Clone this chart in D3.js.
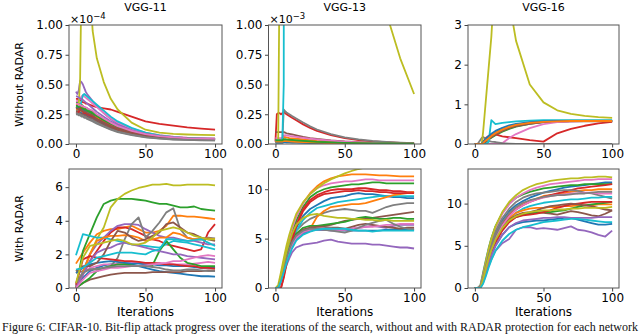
<!DOCTYPE html>
<html>
<head>
<meta charset="utf-8">
<script src="https://cdn.jsdelivr.net/npm/d3@7"></script>
<style>
  html, body { margin: 0; padding: 0; background: #fff; }
  svg { display: block; font-family: "DejaVu Sans", sans-serif; }
</style>
</head>
<body>
<script>
// matplotlib tab10 cycle
const colors = ['#1f77b4', '#ff7f0e', '#2ca02c', '#d62728', '#9467bd',
                '#8c564b', '#e377c2', '#7f7f7f', '#bcbd22', '#17becf'];

const titles = ['VGG-11', 'VGG-13', 'VGG-16'];
const rowLabels = ['Without RADAR', 'With RADAR'];
const xTicks = [0, 50, 100];

// iterations sampled for the top row
const topIters = [0, 1, 2, 3, 4, 5, 6, 7, 8, 10, 12, 15, 20, 25, 30, 40, 50, 60, 70, 80, 90, 100];

// VGG-11 without RADAR (x1e-4)
const vgg11Without = [
  [0.28,0.28,0.27,0.27,0.26,0.26,0.25,0.25,0.24,0.23,0.22,0.20,0.17,0.145,0.125,0.095,0.072,0.058,0.048,0.042,0.038,0.035],
  [0.33,0.33,0.32,0.32,0.31,0.30,0.30,0.29,0.28,0.27,0.26,0.23,0.20,0.17,0.145,0.11,0.085,0.068,0.057,0.05,0.046,0.043],
  [0.35,0.35,0.34,0.33,0.33,0.32,0.31,0.30,0.30,0.28,0.27,0.245,0.21,0.18,0.155,0.115,0.088,0.07,0.058,0.05,0.046,0.044],
  [0.38,0.38,0.37,0.37,0.36,0.35,0.35,0.34,0.34,0.33,0.32,0.31,0.30,0.29,0.27,0.23,0.19,0.17,0.155,0.14,0.13,0.12],
  [0.44,0.42,0.45,0.53,0.52,0.50,0.47,0.44,0.42,0.39,0.36,0.32,0.26,0.21,0.17,0.12,0.085,0.065,0.055,0.048,0.044,0.042],
  [0.27,0.27,0.26,0.26,0.25,0.25,0.24,0.24,0.23,0.22,0.21,0.19,0.16,0.135,0.115,0.085,0.065,0.052,0.044,0.039,0.036,0.034],
  [0.36,0.36,0.37,0.38,0.40,0.41,0.40,0.39,0.38,0.36,0.34,0.31,0.26,0.215,0.18,0.13,0.095,0.075,0.062,0.054,0.05,0.047],
  [0.25,0.25,0.24,0.24,0.23,0.23,0.22,0.22,0.21,0.20,0.19,0.17,0.145,0.12,0.10,0.075,0.055,0.045,0.038,0.034,0.031,0.03],
  [0.30,0.31,0.33,0.55,1.4,2.4,3.0,2.8,2.1,1.35,0.95,0.72,0.52,0.38,0.29,0.18,0.12,0.095,0.085,0.08,0.077,0.075],
  [0.30,0.30,0.31,0.32,0.36,0.41,0.42,0.41,0.40,0.38,0.36,0.33,0.28,0.23,0.19,0.135,0.095,0.072,0.058,0.05,0.045,0.042],
  [0.31,0.31,0.30,0.30,0.29,0.29,0.28,0.28,0.27,0.26,0.25,0.22,0.19,0.16,0.135,0.1,0.077,0.062,0.051,0.045,0.041,0.038],
  [0.29,0.29,0.29,0.28,0.28,0.27,0.27,0.26,0.26,0.25,0.24,0.22,0.185,0.155,0.13,0.098,0.075,0.06,0.05,0.044,0.04,0.037],
  [0.32,0.32,0.31,0.31,0.30,0.30,0.29,0.29,0.28,0.27,0.255,0.235,0.2,0.17,0.145,0.108,0.082,0.065,0.054,0.047,0.043,0.04],
  [0.26,0.26,0.27,0.30,0.28,0.27,0.26,0.26,0.25,0.24,0.23,0.21,0.18,0.15,0.13,0.095,0.072,0.058,0.049,0.043,0.039,0.036],
  [0.40,0.40,0.39,0.38,0.38,0.37,0.36,0.35,0.34,0.32,0.30,0.27,0.23,0.19,0.16,0.115,0.085,0.066,0.055,0.048,0.044,0.041],
  [0.30,0.30,0.29,0.29,0.28,0.28,0.27,0.27,0.26,0.25,0.24,0.21,0.18,0.15,0.128,0.094,0.07,0.056,0.047,0.041,0.037,0.035],
  [0.34,0.34,0.33,0.33,0.32,0.32,0.31,0.31,0.30,0.29,0.28,0.25,0.215,0.18,0.15,0.11,0.083,0.066,0.055,0.048,0.044,0.041],
  [0.26,0.26,0.25,0.25,0.24,0.24,0.23,0.23,0.22,0.21,0.20,0.18,0.15,0.125,0.105,0.078,0.058,0.047,0.04,0.035,0.032,0.031]
];

// VGG-13 without RADAR (x1e-3)
const vgg13Without = [
  [0.03,0.03,0.03,0.03,0.03,0.03,0.03,0.03,0.03,0.028,0.026,0.024,0.02,0.017,0.014,0.01,0.008,0.006,0.005,0.004,0.004,0.003],
  [0.04,0.04,0.04,0.04,0.04,0.045,0.06,0.058,0.055,0.05,0.048,0.044,0.038,0.032,0.027,0.02,0.015,0.011,0.009,0.007,0.006,0.005],
  [0.02,0.02,0.02,0.02,0.02,0.02,0.035,0.034,0.033,0.031,0.03,0.028,0.024,0.02,0.017,0.012,0.009,0.007,0.005,0.004,0.004,0.003],
  [0.02,0.25,0.26,0.26,0.25,0.26,0.27,0.26,0.25,0.235,0.22,0.20,0.165,0.135,0.11,0.075,0.05,0.033,0.022,0.015,0.01,0.007],
  [0.015,0.015,0.015,0.015,0.015,0.015,0.02,0.02,0.02,0.019,0.018,0.016,0.014,0.012,0.01,0.007,0.005,0.004,0.003,0.003,0.002,0.002],
  [0.1,0.1,0.1,0.1,0.1,0.1,0.1,0.095,0.09,0.085,0.08,0.072,0.06,0.05,0.042,0.03,0.021,0.015,0.011,0.008,0.006,0.005],
  [0.05,0.05,0.05,0.05,0.05,0.05,0.07,0.075,0.072,0.068,0.065,0.06,0.052,0.045,0.038,0.028,0.02,0.014,0.01,0.008,0.006,0.005],
  [0.02,0.02,0.02,0.02,0.02,0.03,0.29,0.275,0.265,0.25,0.235,0.215,0.18,0.148,0.122,0.083,0.056,0.038,0.026,0.018,0.012,0.008],
  [0.03,0.03,0.04,1.5,8,30,35,34,33,31,28,25,20,16,12.5,7.8,4.8,2.9,1.8,1.1,0.72,0.42],
  [0.03,0.03,0.03,0.03,0.03,0.04,0.5,20,40,40,40,40,40,40,40,40,40,40,40,40,40,40],
  [0.01,0.01,0.01,0.01,0.01,0.01,0.015,0.015,0.014,0.013,0.012,0.011,0.009,0.008,0.006,0.005,0.004,0.003,0.002,0.002,0.002,0.002],
  [0.02,0.02,0.02,0.02,0.02,0.02,0.025,0.025,0.024,0.022,0.021,0.019,0.016,0.013,0.011,0.008,0.006,0.004,0.003,0.003,0.002,0.002],
  [0.03,0.03,0.03,0.03,0.03,0.03,0.04,0.04,0.038,0.036,0.034,0.031,0.026,0.022,0.018,0.013,0.009,0.007,0.005,0.004,0.003,0.003]
];

// VGG-16 without RADAR
const vgg16Without = [
  [0,0,0,0,0,0,0.02,0.05,0.08,0.15,0.2,0.27,0.35,0.42,0.47,0.53,0.56,0.57,0.58,0.58,0.58,0.58],
  [0,0,0,0,0,0,0.03,0.07,0.1,0.17,0.23,0.3,0.38,0.44,0.49,0.54,0.57,0.58,0.59,0.59,0.59,0.59],
  [0,0,0,0,0,0,0,0.02,0.05,0.11,0.16,0.22,0.31,0.38,0.44,0.51,0.55,0.57,0.58,0.58,0.58,0.58],
  [0,0,0,0,0,0,0.05,0.1,0.15,0.2,0.22,0.24,0.19,0.17,0.15,0.1,0.06,0.27,0.38,0.46,0.52,0.56],
  [0,0,0,0,0,0,0.01,0.04,0.07,0.13,0.19,0.26,0.34,0.41,0.46,0.52,0.55,0.57,0.57,0.58,0.58,0.58],
  [0,0,0,0,0,0,0,0.03,0.06,0.12,0.17,0.24,0.33,0.4,0.45,0.51,0.55,0.56,0.57,0.57,0.57,0.57],
  [0,0,0,0,0,0,0,0,0,0,0,0,0.02,0.15,0.25,0.4,0.5,0.55,0.57,0.58,0.58,0.58],
  [0,0,0,0.05,0.1,0.15,0.18,0.15,0.12,0.08,0.06,0.05,0.02,0.01,0,0,0,0,0,0,0,0],
  [0,0,0,0,0,0,0.3,0.7,1.1,1.9,2.7,4.5,5.5,3.6,2.6,1.5,1.05,0.85,0.76,0.71,0.68,0.66],
  [0,0,0,0,0,0,0,0,0,0.05,0.6,0.5,0.53,0.55,0.57,0.59,0.6,0.6,0.6,0.6,0.6,0.6],
  [0,0,0,0,0,0.01,0.05,0.09,0.13,0.2,0.26,0.33,0.41,0.47,0.51,0.55,0.57,0.58,0.58,0.58,0.58,0.58],
  [0,0,0,0,0,0,0.02,0.06,0.09,0.14,0.2,0.27,0.36,0.43,0.48,0.53,0.56,0.57,0.58,0.58,0.58,0.58]
];

// VGG-11 with RADAR
const vgg11Iters = [0,5,10,15,20,25,30,35,40,45,50,55,60,65,70,75,80,85,90,95,100];
const vgg11With = [
  [0,0.6,1.0,1.2,1.35,1.4,1.45,1.45,1.4,1.3,1.2,1.1,1.0,0.95,0.9,0.85,0.8,0.75,0.7,0.7,0.68],
  [1.45,2.1,2.7,3.2,3.4,3.5,3.5,3.6,3.7,3.5,3.3,3.3,3.4,3.7,4.3,4.3,4.25,4.25,4.2,4.15,4.1],
  [0,2.2,3.2,4.2,5.0,5.2,5.3,5.3,5.3,5.25,5.2,5.1,5.0,5.0,4.9,4.8,4.8,4.85,4.7,4.65,4.6],
  [0,0.8,1.6,2.2,2.8,3.3,3.6,3.6,3.5,3.3,3.1,2.9,2.8,2.6,2.5,2.4,2.3,2.2,2.3,3.3,3.8],
  [0.1,1.0,2.0,2.6,3.0,3.4,3.7,3.8,3.8,3.75,3.5,3.3,3.1,3.0,3.0,2.9,2.8,2.8,2.7,2.6,2.6],
  [0,0.3,0.5,0.6,0.7,0.8,0.85,0.9,0.9,0.9,0.9,0.95,0.95,0.95,0.95,0.95,1.0,1.0,1.0,1.05,1.05],
  [0.3,0.9,1.2,1.3,1.4,1.4,1.45,1.5,1.5,1.5,1.45,1.45,1.5,1.45,1.4,1.4,1.4,1.45,1.5,1.55,1.5],
  [0.9,1.0,1.1,1.1,1.2,1.3,1.8,2.9,3.8,4.2,3.0,3.4,3.9,4.5,4.75,3.5,3.0,2.9,2.9,3.0,2.95],
  [0,0.9,2.0,2.9,3.6,4.8,5.3,5.6,5.8,5.95,6.05,6.15,6.15,6.2,6.1,6.1,6.15,6.15,6.15,6.15,6.1],
  [1.95,3.2,3.1,3.0,3.0,2.9,2.8,2.7,2.6,2.55,2.5,2.45,2.4,2.6,2.8,2.75,2.7,2.6,2.5,2.4,2.3],
  [0.9,1.2,1.4,1.5,1.55,1.6,1.55,1.5,1.45,1.45,1.4,1.4,1.35,1.35,1.3,1.3,1.3,1.25,1.2,1.2,1.2],
  [0,0.9,2.0,2.8,3.0,3.1,3.1,3.15,3.1,3.0,2.8,2.9,3.0,3.0,3.3,3.2,3.0,2.9,2.9,2.95,2.9],
  [0,0.3,0.6,1.0,1.2,1.3,1.4,1.4,1.35,1.3,1.3,1.35,2.2,2.8,2.3,1.8,1.5,1.4,1.3,1.3,1.3],
  [0.2,1.7,1.9,1.8,1.75,1.7,1.65,1.6,1.6,1.55,1.5,1.5,1.45,1.4,1.4,1.35,1.3,1.3,1.2,1.2,1.15],
  [0,0.8,1.6,2.1,2.3,2.4,2.6,2.7,2.6,2.5,2.4,2.3,2.2,2.1,2.0,2.0,1.9,1.85,1.8,1.75,1.7],
  [1.0,1.3,1.3,1.5,2.0,2.8,3.4,3.3,3.0,2.8,2.9,3.1,3.3,3.8,3.9,3.6,3.3,3.2,3.0,2.9,2.8],
  [0,0.5,0.9,1.0,1.1,1.2,1.2,1.25,1.3,1.3,1.35,1.4,1.45,1.5,1.6,1.6,1.7,1.8,1.9,1.95,1.9],
  [0.3,0.9,1.1,1.15,1.2,1.25,1.3,1.3,1.3,1.3,1.3,1.25,1.2,1.1,1.05,1.05,1.1,1.1,1.05,1.0,1.0],
  [0.3,1.8,2.5,2.6,2.7,2.8,2.9,2.8,2.6,2.6,2.7,3.0,3.4,3.5,3.6,3.5,3.3,3.1,3.0,2.9,2.9],
  [1.1,1.2,1.5,1.8,1.9,2.0,2.1,2.1,2.1,2.05,2.0,2.2,2.3,2.9,2.9,2.85,2.8,2.85,2.9,2.7,2.5]
];

// iterations sampled for VGG-13 / VGG-16 with RADAR
const bottomIters = [0,2,4,6,8,10,12,15,20,25,30,35,40,45,50,55,60,65,70,75,80,85,90,95,100];

const vgg13With = [
  [0,0,1.0,2.2,3.3,4.3,5.1,6.1,7.3,8.0,8.4,8.8,9.1,9.2,9.3,9.5,9.6,9.5,9.5,9.4,9.3,9.2,9.2,9.1,9.1],
  [0,0,1.2,2.6,3.9,5.0,6.0,7.2,8.6,9.6,10.3,10.8,11.1,11.3,11.4,11.5,11.5,11.5,11.45,11.4,11.4,11.35,11.3,11.3,11.3],
  [0,0,1.0,2.4,3.6,4.7,5.6,6.8,8.2,9.2,9.7,10.0,10.2,10.3,10.4,10.5,10.5,10.6,10.7,10.7,10.6,10.6,10.6,10.6,10.6],
  [0,0,0,1.2,2.6,3.9,5.0,6.4,8.0,8.9,9.4,9.7,9.9,10.0,10.0,10.0,10.1,10.1,10.0,9.9,9.9,9.8,9.8,9.7,9.7],
  [0,0,0.7,1.5,2.3,3.0,3.6,4.1,4.4,4.5,4.6,4.8,4.9,4.7,4.6,4.5,4.5,4.5,4.4,4.4,4.3,4.2,4.1,4.1,4.0],
  [0,0,0.9,2.0,3.0,3.9,4.6,5.4,5.9,6.1,6.2,6.3,6.4,6.6,6.8,6.9,7.0,7.0,7.1,7.2,7.3,7.4,7.5,7.6,7.7],
  [0,0,1.3,2.7,4.0,5.1,6.0,7.2,8.6,9.5,10.1,10.4,10.6,10.7,10.8,10.8,10.9,11.0,11.0,10.9,10.9,10.9,10.9,10.9,10.9],
  [0,0,1.1,2.3,3.4,4.3,5.0,5.8,6.5,7.0,7.3,7.6,7.8,7.9,8.0,7.9,7.8,7.8,7.6,7.9,8.2,8.4,8.5,8.6,8.6],
  [0,0.3,1.6,3.0,4.3,5.4,6.3,7.5,8.7,9.5,10.1,10.6,11.0,11.3,11.6,11.85,12.05,12.2,12.3,12.3,12.3,12.3,12.3,12.3,12.3],
  [0,0,0.8,2.0,3.1,4.0,4.8,5.8,6.9,7.6,8.1,8.3,8.5,8.7,8.8,8.9,9.0,9.1,9.2,9.3,9.3,9.3,9.3,9.3,9.3],
  [0,0,0.8,1.8,2.7,3.5,4.2,4.9,5.5,5.8,5.9,5.9,5.9,5.8,5.8,5.8,5.8,5.8,5.8,5.8,5.9,5.9,5.9,5.9,5.9],
  [0,0,0.9,2.0,3.0,3.9,4.6,5.3,5.8,6.0,7.2,7.8,8.2,8.3,8.4,8.5,8.5,8.6,8.8,9.0,9.2,9.4,9.5,9.6,9.7],
  [0,0,1.0,2.1,3.1,4.0,4.7,5.5,6.1,6.3,6.3,6.4,6.5,6.6,6.7,6.9,7.1,7.2,7.1,7.0,7.0,7.1,7.1,7.0,7.0],
  [0,0,0,1.0,2.4,3.7,4.8,6.2,7.8,8.7,9.2,9.5,9.6,9.7,9.8,9.8,9.9,9.8,9.8,9.7,9.7,9.6,9.6,9.6,9.6],
  [0,0,0.8,1.8,2.8,3.6,4.3,5.0,5.6,5.8,5.9,5.9,5.8,5.8,5.9,6.0,6.1,6.2,6.3,6.2,6.1,6.3,6.4,6.4,6.4],
  [0,0,0.9,1.9,2.9,3.8,4.5,5.3,5.9,6.1,6.2,6.2,6.1,6.1,6.0,6.2,6.4,6.5,6.4,6.3,6.2,6.1,6.0,6.1,6.1],
  [0,0,0.8,1.8,2.8,3.7,4.4,5.1,5.7,5.9,6.0,6.0,6.0,5.9,5.9,6.0,6.1,6.2,6.2,6.3,6.4,6.4,6.5,6.5,6.5],
  [0,0,1.0,2.0,3.0,3.9,4.6,5.3,5.8,6.0,6.0,5.9,5.8,5.7,5.6,5.8,6.1,6.4,6.6,6.8,6.9,6.5,6.2,6.0,5.9],
  [0,0,1.2,2.5,3.7,4.7,5.5,6.4,7.1,7.4,7.5,7.3,7.2,7.1,7.1,7.0,7.0,6.9,6.9,6.8,6.9,6.8,6.8,6.8,6.8],
  [0,0,0.7,1.6,2.5,3.3,4.0,4.8,5.4,5.7,5.9,6.0,6.0,6.0,6.0,5.9,5.8,5.8,5.7,5.8,5.8,5.8,5.8,5.8,5.8]
];

const vgg16With = [
  [0,0,0,1.2,2.7,4.0,5.1,6.4,8.0,9.1,9.8,10.3,10.7,11.0,11.3,11.5,11.7,11.9,12.0,12.1,12.2,12.3,12.4,12.5,12.5],
  [0,0,0,1.1,2.5,3.8,4.9,6.2,7.7,8.7,9.4,9.9,10.3,10.6,10.9,11.0,11.1,11.2,11.4,11.5,11.6,11.6,11.7,11.7,11.7],
  [0,0,0.3,1.8,3.3,4.7,5.9,7.3,8.9,10.0,10.7,11.1,11.4,11.6,11.8,11.9,12.0,12.1,12.2,12.2,12.3,12.3,12.3,12.3,12.3],
  [0,0,0,1.0,2.4,3.7,4.8,6.1,7.6,8.6,9.3,9.8,10.2,10.5,10.8,11.0,11.2,11.4,11.6,11.8,11.9,12.0,12.1,12.2,12.3],
  [0,0,0,0.6,1.6,2.6,3.4,4.4,5.3,5.8,6.9,7.2,7.2,7.0,7.1,7.0,6.9,7.1,7.3,6.9,6.8,6.6,6.3,6.1,6.8],
  [0,0,0,0.9,2.1,3.2,4.2,5.4,6.9,7.9,8.5,8.8,8.9,9.0,8.9,8.8,8.7,8.9,9.1,9.0,8.8,8.6,8.5,8.8,9.2],
  [0,0,0.2,1.6,3.1,4.5,5.7,7.1,8.8,9.9,10.7,11.2,11.6,11.9,12.1,12.3,12.4,12.5,12.6,12.7,12.8,12.8,12.9,12.9,12.9],
  [0,0,0.1,1.5,2.9,4.2,5.3,6.7,8.3,9.4,10.2,10.7,11.0,11.2,11.3,11.4,11.5,11.6,11.6,11.5,11.3,11.2,11.0,10.8,10.6],
  [0,0,0,1.4,3.0,4.5,5.8,7.3,9.0,10.2,11.0,11.6,12.0,12.3,12.5,12.7,12.8,12.9,13.0,13.0,13.1,13.1,13.2,13.2,13.1],
  [0,0,0,0.9,2.1,3.3,4.3,5.6,7.1,8.2,8.9,9.4,9.7,9.9,10.1,10.2,10.3,10.4,10.5,10.5,10.6,10.7,10.7,10.8,10.8],
  [0,0,0,0.8,1.9,3.0,3.9,5.0,6.3,7.2,7.6,7.8,7.9,8.0,8.0,8.1,8.2,8.3,8.3,8.1,7.9,7.7,7.5,7.5,7.6],
  [0,0,0,1.0,2.3,3.5,4.5,5.8,7.3,8.3,8.9,9.2,9.4,9.5,9.5,9.6,9.6,9.7,9.7,9.8,9.8,9.8,9.9,9.9,9.9],
  [0,0,0,1.0,2.2,3.4,4.4,5.6,7.0,7.9,8.4,8.7,8.8,8.9,9.0,9.0,9.1,9.2,9.4,9.6,9.8,9.9,10.0,10.1,10.2],
  [0,0,0,0.8,2.0,3.2,4.2,5.4,6.8,7.8,8.4,8.6,8.7,8.8,9.0,9.2,9.5,9.7,9.9,10.0,10.1,10.2,10.2,10.2,10.2],
  [0,0,0,0.8,1.9,3.0,3.9,5.0,6.3,7.2,7.7,8.0,8.1,8.2,8.3,8.3,8.4,8.4,8.3,8.3,8.3,8.3,8.4,8.4,8.4],
  [0,0,0,1.0,2.3,3.5,4.5,5.8,7.2,8.1,8.6,8.9,9.0,9.2,9.5,9.7,9.8,9.9,10.0,9.9,9.8,9.7,9.5,9.3,9.2],
  [0,0,0,1.0,2.3,3.5,4.6,5.9,7.4,8.5,9.3,9.8,10.2,10.5,10.7,10.9,11.0,11.1,11.2,11.2,11.3,11.3,11.2,11.2,11.2],
  [0,0,0,1.1,2.5,3.8,4.9,6.2,7.8,8.9,9.6,10.1,10.4,10.6,10.8,10.9,11.0,11.0,11.1,11.2,11.2,11.3,11.4,11.4,11.4],
  [0,0,0,1.0,2.3,3.5,4.5,5.7,7.1,8.0,8.5,8.8,9.0,9.1,9.2,9.2,9.3,9.3,9.4,9.4,9.5,9.5,9.5,9.5,9.6],
  [0,0,0,0.5,1.4,2.4,3.3,4.4,5.6,6.4,6.9,7.2,7.4,7.6,7.8,7.9,8.0,8.1,8.2,8.2,8.1,8.0,7.9,7.8,7.8]
];

const caption = 'Figure 6: CIFAR-10. Bit-flip attack progress over the iterations of the search, without and with RADAR protection for each network';

// layout
const cols = [[69, 222], [268.5, 421], [468, 619]];
const rows = [[25, 144], [169, 288]];

const panels = [
  { r: 0, c: 0, iters: topIters, series: vgg11Without, yMax: 1, yTicks: [0, 0.25, 0.5, 0.75, 1], fmt: d3.format('.2f'), exp: '\u22124' },
  { r: 0, c: 1, iters: topIters, series: vgg13Without, yMax: 1, yTicks: [0, 0.25, 0.5, 0.75, 1], fmt: d3.format('.2f'), exp: '\u22123' },
  { r: 0, c: 2, iters: topIters, series: vgg16Without, yMax: 3, yTicks: [0, 1, 2, 3], fmt: d3.format('d') },
  { r: 1, c: 0, iters: vgg11Iters, series: vgg11With, yMax: 7.08, yTicks: [0, 2, 4, 6], fmt: d3.format('d') },
  { r: 1, c: 1, iters: bottomIters, series: vgg13With, yMax: 12.05, yTicks: [0, 5, 10], fmt: d3.format('d') },
  { r: 1, c: 2, iters: bottomIters, series: vgg16With, yMax: 14.1, yTicks: [0, 5, 10], fmt: d3.format('d') }
];

const svg = d3.select('body').append('svg')
  .attr('width', 640)
  .attr('height', 336);

panels.forEach((p, k) => {
  const [x0, x1] = cols[p.c];
  const [y0, y1] = rows[p.r];
  const x = d3.scaleLinear().domain([-5, 105]).range([x0, x1]);
  const y = d3.scaleLinear().domain([0, p.yMax]).range([y1, y0]);

  svg.append('clipPath').attr('id', 'clip' + k)
    .append('rect').attr('x', x0).attr('y', y0).attr('width', x1 - x0).attr('height', y1 - y0);

  const line = d3.line()
    .x((d, i) => x(p.iters[i]))
    .y(d => y(d));

  svg.append('g').attr('clip-path', `url(#clip${k})`)
    .selectAll('path')
    .data(p.series)
    .enter()
    .append('path')
    .attr('d', line)
    .attr('fill', 'none')
    .attr('stroke', (d, i) => colors[i % 10])
    .attr('stroke-width', 1.8)
    .attr('stroke-linejoin', 'round');

  const xAxis = svg.append('g')
    .attr('transform', `translate(0,${y1})`)
    .call(d3.axisBottom(x).tickValues(xTicks).tickSize(3.5).tickPadding(2));
  const yAxis = svg.append('g')
    .attr('transform', `translate(${x0},0)`)
    .call(d3.axisLeft(y).tickValues(p.yTicks).tickFormat(p.fmt).tickSize(3.5).tickPadding(2.5));

  [xAxis, yAxis].forEach(a => {
    a.select('.domain').remove();
    a.selectAll('line').attr('stroke', '#444');
    a.selectAll('text').attr('font-size', 12).attr('font-family', '"DejaVu Sans", sans-serif').attr('fill', '#000');
  });

  svg.append('rect')
    .attr('x', x0).attr('y', y0)
    .attr('width', x1 - x0).attr('height', y1 - y0)
    .attr('fill', 'none')
    .attr('stroke', '#555')
    .attr('stroke-width', 1);

  if (p.r === 0) {
    svg.append('text')
      .attr('x', (x0 + x1) / 2).attr('y', 11)
      .attr('text-anchor', 'middle')
      .attr('font-size', 11)
      .text(titles[p.c]);
  } else {
    svg.append('text')
      .attr('x', (x0 + x1) / 2).attr('y', 316)
      .attr('text-anchor', 'middle')
      .attr('font-size', 12)
      .text('Iterations');
  }

  if (p.exp) {
    const t = svg.append('text').attr('x', x0 + 1).attr('y', 23).attr('font-size', 11);
    t.append('tspan').text('\u00d710');
    t.append('tspan').attr('dy', -4).attr('font-size', 8.5).text(p.exp);
  }
});

rowLabels.forEach((label, r) => {
  const [y0, y1] = rows[r];
  svg.append('text')
    .attr('transform', `translate(23,${(y0 + y1) / 2}) rotate(-90)`)
    .attr('text-anchor', 'middle')
    .attr('font-size', 11)
    .text(label);
});

svg.append('text')
  .attr('x', 2).attr('y', 331)
  .attr('font-family', '"Liberation Serif", serif')
  .attr('font-size', 12)
  .attr('fill', '#111')
  .text(caption);
</script>
</body>
</html>
